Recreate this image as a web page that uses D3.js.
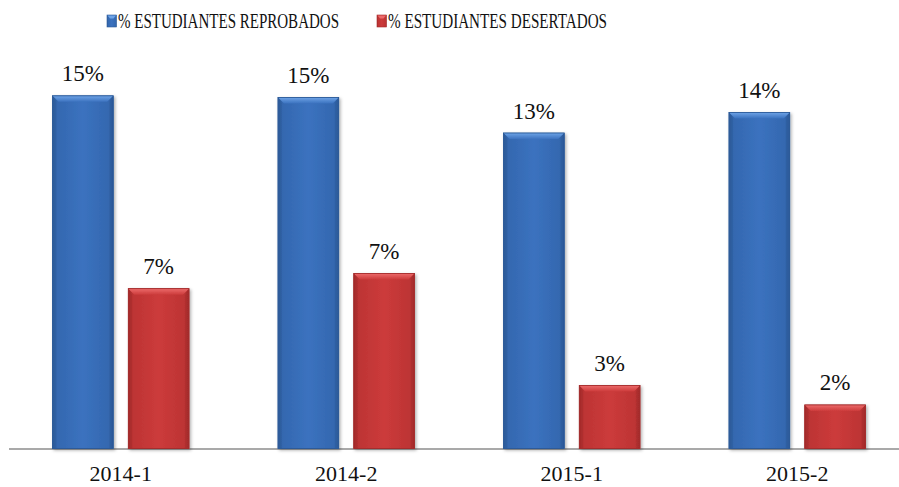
<!DOCTYPE html>
<html>
<head>
<meta charset="utf-8">
<script src="https://cdn.jsdelivr.net/npm/d3@7"></script>
<style>
  html, body { margin: 0; padding: 0; background: #fff; }
  svg { display: block; }
  svg text { font-family: "Times New Roman", "Liberation Serif", Tinos, serif; }
</style>
</head>
<body>
<svg id="chart" width="899" height="487"></svg>
<script>
// Semesters and the two rates per semester (fractions)
const periods = ["2014-1", "2014-2", "2015-1", "2015-2"];
const reprobados = [0.1507, 0.1500, 0.1348, 0.1436];
const desertados = [0.0683, 0.0748, 0.0269, 0.0186];
const seriesNames = ["% ESTUDIANTES REPROBADOS", "% ESTUDIANTES DESERTADOS"];

const palettes = [
  { key: "blue", base: "#3b72bf", dark: "#2c5a98", light: "#6ea3e6", side: "#3468b0" },
  { key: "red",  base: "#cc3b3b", dark: "#a32b2b", light: "#ec6a6a", side: "#bd3434" }
];

const rows = periods.map((p, i) => ({ period: p, values: [reprobados[i], desertados[i]] }));

const svg = d3.select("#chart");
const width = 899, height = 487;
const baseline = 448.5;

const x0 = d3.scaleBand().domain(periods).range([8, 910]).paddingInner(0.3953).paddingOuter(0.1977);
const x1 = d3.scaleBand().domain([0, 1]).range([0, x0.bandwidth()]).paddingInner(0.2);
const y = d3.scaleLinear().domain([0, 0.19]).range([baseline, baseline - 0.19 * 2340]);

// Gradients and shadow
const defs = svg.append("defs");
palettes.forEach(p => {
  const h = defs.append("linearGradient").attr("id", "body-" + p.key).attr("x1", 0).attr("x2", 1).attr("y1", 0).attr("y2", 0);
  h.append("stop").attr("offset", "0%").attr("stop-color", p.dark);
  h.append("stop").attr("offset", "8%").attr("stop-color", p.side);
  h.append("stop").attr("offset", "50%").attr("stop-color", p.base);
  h.append("stop").attr("offset", "92%").attr("stop-color", p.side);
  h.append("stop").attr("offset", "100%").attr("stop-color", p.dark);
  const t = defs.append("linearGradient").attr("id", "top-" + p.key).attr("x1", 0).attr("x2", 0).attr("y1", 0).attr("y2", 1);
  t.append("stop").attr("offset", "0%").attr("stop-color", p.light);
  t.append("stop").attr("offset", "100%").attr("stop-color", p.base);
});
const shadow = defs.append("filter").attr("id", "shadow").attr("x", "-20%").attr("y", "-10%").attr("width", "140%").attr("height", "130%");
shadow.append("feDropShadow").attr("dx", 1.5).attr("dy", 1.5).attr("stdDeviation", 1.5).attr("flood-color", "#000").attr("flood-opacity", 0.3);

// Axis line
svg.append("line")
  .attr("x1", 9).attr("x2", width).attr("y1", baseline + 0.5).attr("y2", baseline + 0.5)
  .attr("stroke", "#8c8c8c").attr("stroke-width", 1.6);

// Bars with a bevelled top
const bevel = 6;
const groups = svg.append("g").selectAll("g").data(rows).join("g")
  .attr("transform", d => `translate(${x0(d.period)},0)`);

const bars = groups.selectAll("g.bar").data(d => d.values.map((v, i) => ({ v, i }))).join("g")
  .attr("class", "bar")
  .attr("filter", "url(#shadow)");

bars.each(function(d) {
  const g = d3.select(this);
  const p = palettes[d.i];
  const bx = x1(d.i), bw = x1.bandwidth();
  const top = y(d.v), bh = baseline - top;
  g.append("rect").attr("x", bx).attr("y", top).attr("width", bw).attr("height", bh)
    .attr("fill", `url(#body-${p.key})`).attr("stroke", p.dark).attr("stroke-width", 0.8);
  const b = Math.min(bevel, bh / 2);
  g.append("path")
    .attr("d", `M${bx},${top}L${bx + bw},${top}L${bx + bw - b},${top + b}L${bx + b},${top + b}Z`)
    .attr("fill", `url(#top-${p.key})`);
  g.append("path")
    .attr("d", `M${bx},${top}L${bx + b * 0.6},${top + b}L${bx + b * 0.6},${baseline}L${bx},${baseline}Z`)
    .attr("fill", p.dark).attr("opacity", 0.35);
  g.append("path")
    .attr("d", `M${bx + bw},${top}L${bx + bw - b * 0.6},${top + b}L${bx + bw - b * 0.6},${baseline}L${bx + bw},${baseline}Z`)
    .attr("fill", p.dark).attr("opacity", 0.35);
  g.append("rect").attr("x", bx).attr("y", top).attr("width", bw).attr("height", bh)
    .attr("fill", "none").attr("stroke", p.dark).attr("stroke-width", 0.8);
});

// Value labels
const fmt = d3.format(".0%");
groups.selectAll("text.val").data(d => d.values.map((v, i) => ({ v, i }))).join("text")
  .attr("class", "val")
  .attr("x", d => x1(d.i) + x1.bandwidth() / 2)
  .attr("y", d => y(d.v) - 14.5)
  .attr("text-anchor", "middle")
  .attr("font-size", 23)
  .attr("fill", "#111")
  .text(d => fmt(d.v));

// Category labels
svg.append("g").selectAll("text").data(periods).join("text")
  .attr("x", d => x0(d) + x0.bandwidth() / 2)
  .attr("y", 481)
  .attr("text-anchor", "middle")
  .attr("font-size", 22)
  .attr("fill", "#111")
  .text(d => d);

// Legend (narrow, condensed entries)
const legendX = [107, 377];
const legendW = [221, 219];
const legend = svg.append("g").selectAll("g").data(seriesNames).join("g")
  .attr("transform", (d, i) => `translate(${legendX[i]},15)`);
legend.append("rect").attr("width", 9.5).attr("height", 12)
  .attr("fill", (d, i) => `url(#body-${palettes[i].key})`)
  .attr("stroke", (d, i) => palettes[i].dark).attr("stroke-width", 0.6);
legend.append("path").attr("d", "M0.5,0.5L9,0.5L6.5,3.5L3,3.5Z")
  .attr("fill", (d, i) => palettes[i].light);
legend.append("text").attr("x", 11).attr("y", 13.3)
  .attr("font-size", 20).attr("fill", "#111")
  .attr("textLength", (d, i) => legendW[i])
  .attr("lengthAdjust", "spacingAndGlyphs")
  .text(d => d);
</script>
</body>
</html>
